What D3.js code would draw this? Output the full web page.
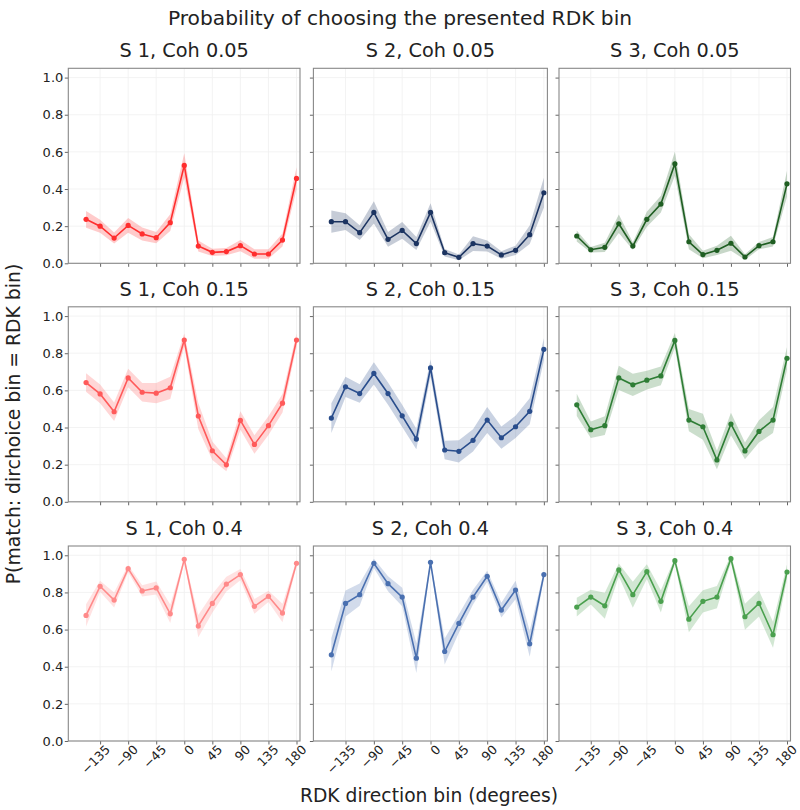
<!DOCTYPE html>
<html>
<head>
<meta charset="utf-8">
<script src="https://cdn.jsdelivr.net/npm/d3@7"></script>
<style>
  body { margin: 0; background: #fff; }
  text { font-family: "DejaVu Sans", sans-serif; fill: #222; }
</style>
</head>
<body>
<div id="chart"></div>
<script>
// direction bins (deg)
const bins = [-157.5, -135, -112.5, -90, -67.5, -45, -22.5, 0, 22.5, 45, 67.5, 90, 112.5, 135, 157.5, 180]
const xTicks = [-135, -90, -45, 0, 45, 90, 135, 180]
const yTicks = [0, 0.2, 0.4, 0.6, 0.8, 1.0]
const subjects = ["S 1", "S 2", "S 3"]
const cohs = ["0.05", "0.15", "0.4"]

// mean P(match) per subject / coherence
const s1c05 = [0.237, 0.20, 0.136, 0.204, 0.158, 0.138, 0.219, 0.527, 0.093, 0.059, 0.063, 0.095, 0.05, 0.05, 0.125, 0.457]
const s2c05 = [0.224, 0.224, 0.165, 0.274, 0.129, 0.177, 0.106, 0.274, 0.057, 0.032, 0.106, 0.093, 0.045, 0.07, 0.154, 0.38]
const s3c05 = [0.147, 0.073, 0.086, 0.213, 0.093, 0.237, 0.319, 0.536, 0.116, 0.047, 0.07, 0.108, 0.034, 0.095, 0.116, 0.428]
const s1c15 = [0.642, 0.581, 0.485, 0.667, 0.590, 0.585, 0.614, 0.871, 0.462, 0.275, 0.199, 0.438, 0.309, 0.410, 0.531, 0.871]
const s2c15 = [0.451, 0.619, 0.583, 0.691, 0.583, 0.463, 0.338, 0.721, 0.279, 0.272, 0.331, 0.440, 0.345, 0.404, 0.487, 0.821]
const s3c15 = [0.522, 0.388, 0.410, 0.667, 0.630, 0.655, 0.678, 0.869, 0.440, 0.404, 0.225, 0.419, 0.274, 0.379, 0.440, 0.773]
const s1c40 = [0.676, 0.833, 0.759, 0.928, 0.808, 0.824, 0.685, 0.978, 0.619, 0.741, 0.845, 0.896, 0.725, 0.779, 0.689, 0.957]
const s2c40 = [0.464, 0.741, 0.788, 0.957, 0.847, 0.775, 0.446, 0.962, 0.482, 0.633, 0.775, 0.887, 0.705, 0.813, 0.523, 0.896]
const s3c40 = [0.721, 0.775, 0.728, 0.921, 0.788, 0.912, 0.752, 0.971, 0.656, 0.752, 0.775, 0.982, 0.669, 0.741, 0.572, 0.910]

// half-width of the shaded band
const e1c05 = [0.045, 0.035, 0.03, 0.04, 0.035, 0.03, 0.045, 0.065, 0.03, 0.02, 0.02, 0.03, 0.025, 0.025, 0.035, 0.06]
const e2c05 = [0.06, 0.045, 0.04, 0.06, 0.04, 0.045, 0.035, 0.05, 0.02, 0.015, 0.04, 0.03, 0.02, 0.025, 0.05, 0.08]
const e3c05 = [0.03, 0.015, 0.025, 0.05, 0.02, 0.04, 0.045, 0.065, 0.04, 0.02, 0.025, 0.04, 0.015, 0.02, 0.025, 0.07]
const e1c15 = [0.05, 0.05, 0.05, 0.05, 0.05, 0.055, 0.06, 0.035, 0.07, 0.05, 0.035, 0.05, 0.05, 0.05, 0.05, 0.035]
const e2c15 = [0.08, 0.055, 0.05, 0.06, 0.06, 0.06, 0.055, 0.045, 0.05, 0.06, 0.06, 0.07, 0.06, 0.06, 0.07, 0.06]
const e3c15 = [0.06, 0.045, 0.05, 0.065, 0.06, 0.05, 0.05, 0.04, 0.06, 0.07, 0.05, 0.06, 0.045, 0.06, 0.07, 0.06]
const e1c40 = [0.06, 0.03, 0.04, 0.02, 0.03, 0.035, 0.05, 0.01, 0.06, 0.05, 0.04, 0.03, 0.04, 0.03, 0.05, 0.015]
const e2c40 = [0.09, 0.07, 0.06, 0.025, 0.04, 0.05, 0.08, 0.01, 0.07, 0.05, 0.04, 0.03, 0.04, 0.05, 0.07, 0.02]
const e3c40 = [0.05, 0.04, 0.07, 0.035, 0.07, 0.04, 0.06, 0.015, 0.07, 0.06, 0.06, 0.02, 0.07, 0.07, 0.07, 0.04]

const means = [[s1c05, s2c05, s3c05], [s1c15, s2c15, s3c15], [s1c40, s2c40, s3c40]]
const errs = [[e1c05, e2c05, e3c05], [e1c15, e2c15, e3c15], [e1c40, e2c40, e3c40]]
// colours: row = coherence, col = subject
const colors = [
  ["#ff2e2e", "#1c3461", "#1f5e22"],
  ["#ff5a5a", "#294d8c", "#2e7d35"],
  ["#ff8a8a", "#4a70b0", "#4aa04e"]
]

const width = 800, height = 810
const colLeft = [68.3, 313.4, 559]
const colW = [231.7, 234, 231.5]
const rowTop = [68.3, 306.8, 546]
const panelH = 195

const svg = d3.select("#chart").append("svg")
  .attr("width", width).attr("height", height)

svg.append("text")
  .attr("x", 400).attr("y", 25)
  .attr("text-anchor", "middle")
  .style("font-size", "20.2px")
  .text("Probability of choosing the presented RDK bin")

svg.append("text")
  .attr("transform", "translate(20,424) rotate(-90)")
  .attr("text-anchor", "middle")
  .style("font-size", "18.8px")
  .text("P(match: dirchoice bin = RDK bin)")

svg.append("text")
  .attr("x", 429).attr("y", 802)
  .attr("text-anchor", "middle")
  .style("font-size", "18.7px")
  .text("RDK direction bin (degrees)")

for (let r = 0; r < 3; r++) {
  for (let c = 0; c < 3; c++) {
    const x = d3.scaleLinear().domain([-186, 185.6]).range([0, colW[c]])
    const y = d3.scaleLinear().domain([0, 1.05]).range([panelH, 0])
    const g = svg.append("g").attr("transform", `translate(${colLeft[c]},${rowTop[r]})`)
    const vals = means[r][c], err = errs[r][c], col = colors[r][c]

    // faint grid
    g.selectAll(".gx").data(xTicks).enter().append("line")
      .attr("x1", d => x(d)).attr("x2", d => x(d))
      .attr("y1", 0).attr("y2", panelH)
      .style("stroke", "#f0f0f0").style("stroke-width", 0.8)
    g.selectAll(".gy").data(yTicks).enter().append("line")
      .attr("y1", d => y(d)).attr("y2", d => y(d))
      .attr("x1", 0).attr("x2", colW[c])
      .style("stroke", "#f0f0f0").style("stroke-width", 0.8)

    g.append("text")
      .attr("x", colW[c] / 2).attr("y", -11)
      .attr("text-anchor", "middle")
      .style("font-size", "19.3px")
      .text(`${subjects[c]}, Coh ${cohs[r]}`)

    const pts = bins.map((b, i) => ({ b, v: vals[i], e: err[i] }))

    const area = d3.area()
      .x(d => x(d.b))
      .y0(d => y(d.v - d.e))
      .y1(d => y(d.v + d.e))
    g.append("path").datum(pts)
      .attr("d", area)
      .style("fill", col).style("fill-opacity", 0.25)

    const line = d3.line().x(d => x(d.b)).y(d => y(d.v))
    g.append("path").datum(pts)
      .attr("d", line)
      .style("fill", "none").style("stroke", col).style("stroke-width", 1.6)

    g.selectAll(".pt").data(pts).enter().append("circle")
      .attr("cx", d => x(d.b)).attr("cy", d => y(d.v))
      .attr("r", 2.6).style("fill", col)

    const xAxis = d3.axisBottom(x).tickValues(xTicks).tickSize(3.5)
      .tickFormat(r === 2 ? (d => d < 0 ? "\u2212" + Math.abs(d) : d) : "")
    const gx = g.append("g").attr("transform", `translate(0,${panelH})`).call(xAxis)
    gx.select(".domain").remove()
    gx.selectAll("line").style("stroke", "#666")
    gx.selectAll("text")
      .style("font-size", "12.5px")
      .attr("text-anchor", "end")
      .attr("dx", "0.05em").attr("dy", "0.8em")
      .attr("transform", "rotate(-45)")
      .attr("y", 4).attr("x", 0)

    const yAxis = d3.axisLeft(y).tickValues(yTicks).tickSize(3.5)
      .tickFormat(c === 0 ? d3.format(".1f") : "")
    const gy = g.append("g").call(yAxis)
    gy.select(".domain").remove()
    gy.selectAll("line").style("stroke", "#666")
    gy.selectAll("text").style("font-size", "13px").attr("x", -5)

    g.append("rect")
      .attr("width", colW[c]).attr("height", panelH)
      .style("fill", "none").style("stroke", "#888").style("stroke-width", 1.1)
  }
}
</script>
</body>
</html>
